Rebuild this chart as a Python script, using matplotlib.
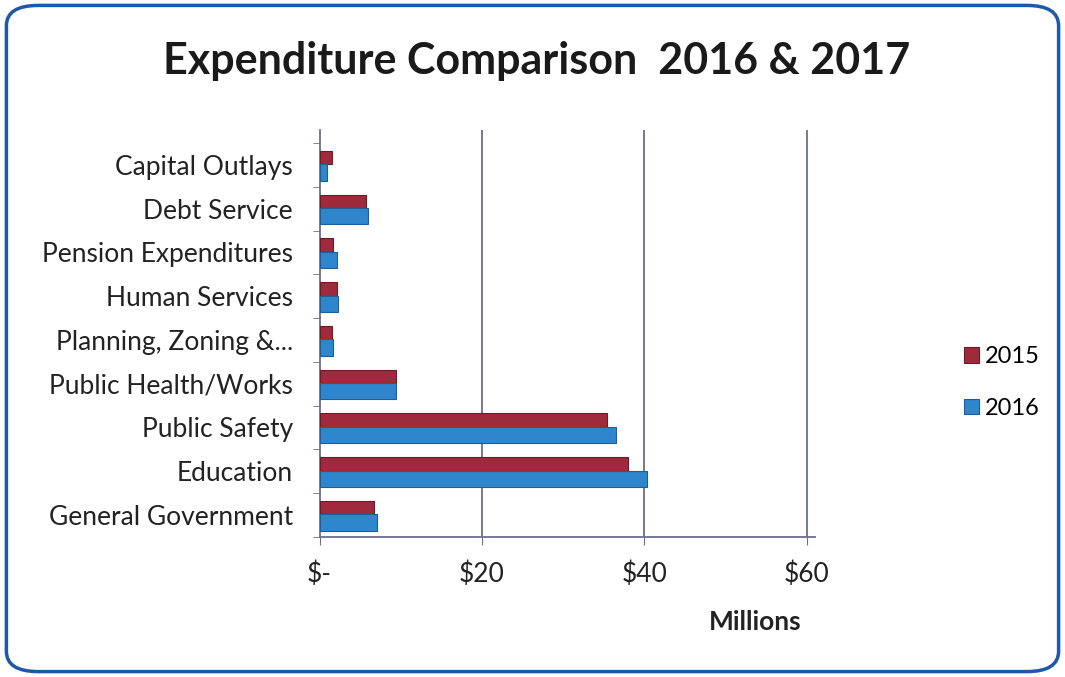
import matplotlib
matplotlib.use("Agg")
import matplotlib.pyplot as plt
from matplotlib.patches import FancyBboxPatch
import numpy as np

categories = ["General Government", "Education", "Public Safety", "Public Health/Works",
              "Planning, Zoning &...", "Human Services", "Pension Expenditures",
              "Debt Service", "Capital Outlays"]
values_2015 = [6.7, 38.0, 35.4, 9.4, 1.6, 2.2, 1.7, 5.7, 1.6]
values_2016 = [7.1, 40.3, 36.5, 9.4, 1.7, 2.3, 2.2, 6.0, 0.9]
series_names = ["2015", "2016"]
xticks = [0, 20, 40, 60]
xticklabels = ["$-", "$20", "$40", "$60"]

plt.rcParams['font.family'] = ['Lato', 'DejaVu Sans']

fig = plt.figure(figsize=(10.65, 6.77), dpi=100)
fig.patch.set_facecolor("white")

border = FancyBboxPatch((0.006, 0.008), 0.988, 0.984, boxstyle="round,pad=0,rounding_size=0.03",
                        transform=fig.transFigure, facecolor="none", edgecolor="#2058A8",
                        linewidth=2.5, zorder=-1)
fig.patches.append(border)

ax = fig.add_axes([0.300, 0.207, 0.465, 0.601])
ax.set_facecolor("none")

y = np.arange(len(categories))
red = "#9E2A3C"
blue = "#2F86CC"
ax.barh(y + 0.17, values_2015, height=0.31, color=red, edgecolor="#6E1A28", linewidth=0.8,
        label=series_names[0], zorder=3)
ax.barh(y - 0.17, values_2016, height=0.37, color=blue, edgecolor="#1E5E95", linewidth=0.8,
        label=series_names[1], zorder=3)

ax.set_xlim(0, 61)
ax.set_ylim(-0.5, 8.8)
ax.set_xticks(xticks)
ax.set_xticklabels(xticklabels, fontsize=19, color="#222222")
ax.set_yticks(y)
ax.set_yticklabels(categories, fontsize=19, color="#222222")
ax.tick_params(axis="y", length=0, pad=19)
ax.tick_params(axis="x", length=6, color="#707080", pad=12)
ax.set_yticks(np.arange(-0.5, 8.6, 1.0), minor=True)
ax.tick_params(axis="y", which="minor", length=5, color="#707080")

for gx in xticks[1:]:
    ax.axvline(gx, color="#6A6F8A", linewidth=1.3, zorder=1)
for s in ["top", "right"]:
    ax.spines[s].set_visible(False)
ax.spines["left"].set_color("#6A6F8A")
ax.spines["left"].set_linewidth(1.3)
ax.spines["bottom"].set_color("#6A6F8A")
ax.spines["bottom"].set_linewidth(1.3)

ax.set_xlabel("Millions", fontsize=19, fontweight="bold", color="#222222")
ax.xaxis.set_label_coords(0.88, -0.18)

fig.text(0.504, 0.91, "Expenditure Comparison  2016 & 2017", ha="center", va="center",
         fontsize=31, fontweight="bold", color="#1A1A1A")

leg = fig.legend(handles=ax.get_legend_handles_labels()[0], labels=series_names,
                 loc="center left", bbox_to_anchor=(0.885, 0.435), frameon=False,
                 fontsize=17, handlelength=0.65, handleheight=0.65, labelspacing=1.3,
                 handletextpad=0.25)

fig.savefig("out.png", dpi=100)
